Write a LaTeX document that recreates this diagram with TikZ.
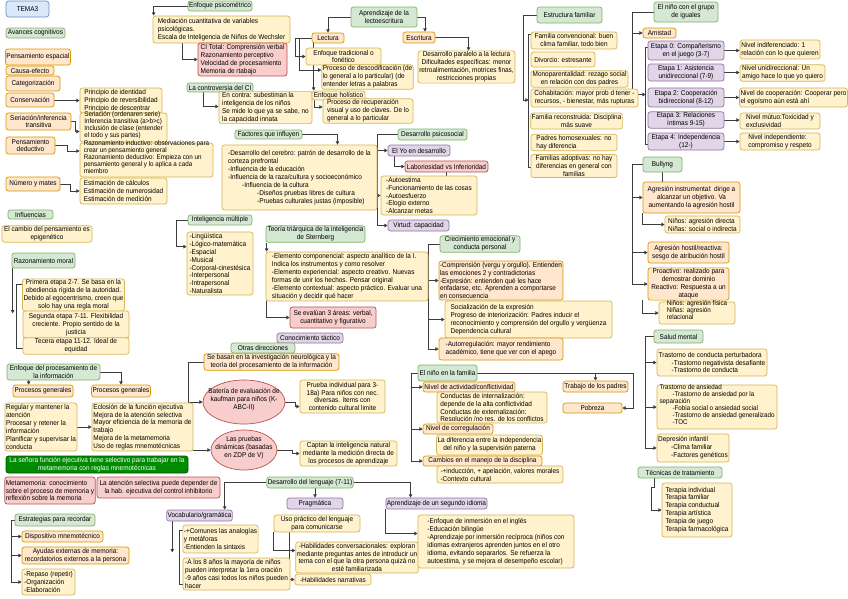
\documentclass[tikz,border=0pt]{standalone}
\usepackage{fontspec}
\setmainfont{Liberation Sans}[FakeStretch=0.92]
\usetikzlibrary{arrows.meta,calc,shapes.geometric}
\pgfdeclarelayer{bgw}\pgfdeclarelayer{bgl}\pgfsetlayers{bgw,bgl,main}
\definecolor{gF}{HTML}{D5E8D4}\definecolor{gD}{HTML}{82B366}
\definecolor{yF}{HTML}{FFF2CC}\definecolor{yD}{HTML}{D6B656}
\definecolor{oF}{HTML}{FFE6CC}\definecolor{oD}{HTML}{D79B00}
\definecolor{rF}{HTML}{F8CECC}\definecolor{rD}{HTML}{B85450}
\definecolor{pF}{HTML}{E1D5E7}\definecolor{pD}{HTML}{9673A6}
\definecolor{bF}{HTML}{DAE8FC}\definecolor{bD}{HTML}{6C8EBF}
\definecolor{dgF}{HTML}{008A00}\definecolor{dgD}{HTML}{005700}
\definecolor{lnC}{HTML}{3D3D3D}
\newcommand\fs{\fontsize{7}{7.9}\selectfont}
\newcommand\mybx[7]{\node[#1,minimum width={(#5)-(#3)},minimum height={(#6)-(#4)}] (#2) at ({((#3)+(#5))/2},{((#4)+(#6))/2}) {#7};}
\newcommand\ovl[1]{\smash{\begin{tabular}[c]{@{}l@{}}#1\end{tabular}}}
\newcommand\ovt[1]{{\fontsize{6.8}{6.9}\selectfont\smash{\begin{tabular}[c]{@{}l@{}}#1\end{tabular}}}}
\newcommand\ovz[1]{\makebox[0pt]{\smash{\begin{tabular}[c]{@{}c@{}}#1\end{tabular}}}}
\tikzset{
 base/.style={rounded corners=2.5pt, line width=0.7pt, inner sep=1pt, align=center},
 gbox/.style={base, fill=gF, draw=gD},
 ybox/.style={base, fill=yF, draw=yD},
 obox/.style={base, fill=oF, draw=oD},
 rbox/.style={base, fill=rF, draw=rD},
 pbox/.style={base, fill=pF, draw=pD},
 blbox/.style={base, fill=bF, draw=bD, rounded corners=3pt},
 dgbox/.style={base, fill=dgF, draw=dgD, text=white},
 ebox/.style={ellipse, fill=rF, draw=rD, line width=0.7pt, inner sep=0pt, align=center},
 lft/.style={align=left},
 ln/.style={draw=lnC, line width=0.7pt},
 conn/.style={ln, -{Triangle[length=3.2pt,width=3.4pt]}},
}
\begin{document}
\begin{tikzpicture}[x=1pt,y=-1pt, every node/.style={font=\fs, text=black}]
\useasboundingbox (0,0) rectangle (848,598);
\begin{pgfonlayer}{bgw}\fill[white] (0,0) rectangle (848,598);\end{pgfonlayer}

% ---------- left column ----------
\mybx{blbox}{tema}{6}{1}{49}{17}{TEMA3}
\mybx{gbox}{avances}{6}{28}{65}{38}{Avances cognitivos}
\mybx{obox}{pesp}{6}{49}{70}{65}{Pensamiento espacial}
\mybx{obox}{causa}{6}{66}{54}{75}{Causa-efecto}
\mybx{obox}{categ}{6}{76}{60}{91}{Categorización}
\mybx{obox}{conserv}{6}{93}{54}{107}{Conservación}
\mybx{ybox,lft}{conservT}{80}{88}{162}{113}{Principio de identidad\\Principio de reversibilidad\\Principio de descentrar}
\mybx{obox}{seria}{6}{113}{71}{130}{Seriación/inferencia\\transitiva}
\mybx{ybox}{seriaT}{80}{113}{167}{142}{\ovt{Seriación (ordenaren serie)\\Inferencia transitiva (a>b>c)\\Inclusión de clase (entender\\el todo y sus partes)}}
\mybx{obox}{deduc}{6}{137}{55}{154}{Pensamiento\\deductivo}
\mybx{ybox}{deducT}{80}{143}{213}{177}{\ovt{Razonamiento inductivo: observaciones para\\crear un pensamiento general\\Razonamiento deductivo: Empieza con un\\pensamiento general y lo aplica a cada\\miembro}}
\mybx{obox}{num}{6}{177}{60}{191}{Número y mates}
\mybx{ybox,lft}{estim}{80}{178}{167}{204}{Estimación de cálculos\\Estimación de numerosidad\\Estimación de medición}
\mybx{gbox}{influ}{8}{210}{53}{219}{Influencias}
\mybx{ybox}{epig}{2}{226}{92}{242}{El cambio del pensamiento es\\epigenético}
\mybx{gbox}{razmor}{12}{253}{75}{268}{Razonamiento moral}
\mybx{ybox}{et1}{23}{279}{124}{311}{Primera etapa 2-7. Se basa en la\\obediencia rígida de la autoridad.\\Debido al egocentrismo, creen que\\solo hay una regla moral}
\mybx{ybox}{et2}{23}{311}{129}{338}{Segunda etapa 7-11.  Flexibilidad\\creciente. Propio sentido de la\\justicia}
\mybx{ybox}{et3}{23}{338}{129}{354}{Tecera etapa 11-12. Ideal  de\\equidad}
\mybx{gbox}{enfproc}{7}{364}{100}{380}{Enfoque del procesamiento de\\la información}
\mybx{obox}{pg1}{13}{385}{73}{397}{Procesos generales}
\mybx{obox}{pg2}{92}{385}{150}{397}{Procesos generales}
\mybx{ybox,lft}{pg1T}{5}{403}{77}{451}{Regular y mantener la\\atención\\Procesar y retener la\\información\\Planificar y supervisar la\\conducta}
\mybx{ybox,lft}{pg2T}{92}{403}{193}{451}{Eclosión de la función ejecutiva\\Mejora de la atención selectiva\\Mayor eficiencia de la memoria de\\trabajo\\Mejora de la metamemoria\\Uso de reglas mnemotécnicas}
\mybx{dgbox}{senora}{6}{456}{188}{473}{La señora función ejecutiva tiene selectivo para trabajar en la\\metamemoria con reglas mnemotécnicas}
\mybx{rbox,lft}{metam}{5}{477}{95}{504}{Metamemoria: conocimiento\\sobre el proceso de memoria y\\reflexión sobre la memoria}
\mybx{rbox}{atsel}{97}{477}{220}{498}{La atención selectiva puede depender de\\la hab. ejecutiva del control inhibitorio}
\mybx{gbox}{estrat}{15}{514}{95}{526}{Estrategias para recordar}
\mybx{obox}{dispo}{22}{531}{103}{542}{Dispositivo mnemotécnico}
\mybx{obox}{ayudas}{22}{547}{129}{564}{Ayudas externas de memoria:\\recordatorios externos a la persona}
\mybx{ybox,lft}{repaso}{22}{569}{75}{595}{-Repaso (repetir)\\-Organización\\-Elaboración}

% ---------- second column ----------
\mybx{gbox}{psico}{188}{1}{252}{11}{Enfoque psicométrico}
\mybx{ybox,lft}{medT}{153}{16}{290}{43}{Mediación cuantitativa de variables\\psicológicas.\\Escala de Inteligencia de Niños de Wechsler}
\mybx{rbox,lft}{ci}{198}{43}{287}{76}{CI Total: Comprensión verbal\\Razonamiento perceptivo\\Velocidad de procesamiento\\Memoria de rtabajo}
\mybx{gbox}{contro}{187}{83}{253}{92}{La controversia del CI}
\mybx{ybox,lft}{controT}{219}{92}{312}{123}{En contra: subestiman la\\inteligencia de los niños\\Se mide lo que ya se sabe, no\\la capacidad innata}
\mybx{gbox}{factores}{235}{130}{302}{139}{Factores que influyen}
\mybx{ybox,lft}{factT}{222}{145}{377}{210}{-Desarrollo del cerebro: patrón de desarrollo de la\\corteza prefrontal\\-Influencia de la educación\\-Influencia de la raza/cultura y socioeconómico\\\hspace*{14pt}-Influencia de la cultura\\\hspace*{29pt}-Diseños pruebas libres de cultura\\\hspace*{29pt}-Pruebas culturales justas (imposible)}
\mybx{gbox}{imult}{188}{215}{252}{225}{Inteligencia múltiple}
\mybx{ybox,lft}{imultT}{187}{232}{253}{295}{-Lingüística\\-Lógico-matemática\\-Espacial\\-Musical\\-Corporal-cinestésica\\-Interpersonal\\-Intrapersonal\\-Naturalista}
\mybx{gbox}{stern}{266}{226}{365}{242}{Teoría triárquica de la inteligencia\\de Sternberg}
\mybx{ybox,lft}{sternT}{266}{252}{428}{301}{-Elemento componencial: aspecto analítico de la I.\\Indica los instrumentos y como resolver\\-Elemento experiencial: aspecto creativo. Nuevas\\formas de unir los hechos. Pensar original\\-Elemento contextual: aspecto práctico. Evaluar una\\situación y decidir qué hacer}
\mybx{rbox}{evalu}{290}{307}{376}{328}{Se evalúan 3 áreas: verbal,\\cuantitativo y figurativo}
\mybx{pbox}{conoc}{277}{333}{343}{343}{Conocimiento táctico}
\mybx{gbox}{otras}{231}{343}{295}{353}{Otras direcciones}
\mybx{obox}{sebasan}{204}{354}{339}{370}{Se basan en la investigación neurológica y la\\teoría del procesamiento de la información}
\node[ebox, minimum width=82, minimum height=44] (bateria) at (244,402) {\ovz{Batería de evaluación de\\kaufman para niños (K-\\ABC-II)}};
\mybx{ybox}{pruebaInd}{300}{380}{385}{413}{Prueba individual para 3-\\18a) Para niños con nec.\\diversas. ítems con\\contenido cultural limite}
\node[ebox, minimum width=66, minimum height=40] (dinam) at (244,450) {\ovz{Las pruebas\\dinámicas (basadas\\en ZDP de V)}};
\mybx{ybox}{captan}{300}{441}{397}{466}{Captan la inteligencia natural\\mediante la medición directa de\\los procesos de aprendizaje}
\mybx{gbox}{dlen}{267}{477}{353}{488}{Desarrollo del lenguaje (7-11)}
\mybx{pbox}{vocab}{167}{510}{232}{521}{Vocabulario/gramática}
\mybx{pbox}{prag}{287}{498}{343}{509}{Pragmática}
\mybx{pbox}{segidi}{386}{498}{487}{509}{Aprendizaje de un segundo idioma}
\mybx{ybox,lft}{vocT1}{183}{525}{258}{553}{-+Comunes las analogías\\y metáforas\\-Entienden la sintaxis}
\mybx{ybox,lft}{vocT2}{183}{558}{290}{590}{-A los 8 años la mayoría de niños\\pueden interpretar la  1era oración\\-9 años casi todos los niños pueden\\hacer}
\mybx{ybox}{uso}{274}{515}{360}{532}{Uso práctico del lenguaje\\para comunicarse}
\mybx{ybox}{habconv}{296}{542}{418}{573}{-Habilidades conversacionales: exploran\\mediante preguntas antes de introducir un\\tema con el que la otra persona quizá no\\esté familiarizada}
\mybx{ybox}{habnarr}{295}{574}{371}{585}{-Habilidades narrativas}
\mybx{ybox,lft}{segT}{418}{515}{574}{568}{-Enfoque de inmersión en el inglés\\-Educación bilingüe\\-Aprendizaje por inmersión recíproca (niños con\\idiomas extranjeros aprenden juntos en el otro\\idioma, evitando separarlos. Se refuerza la\\autoestima, y se mejora el desempeño escolar)}

% ---------- lectoescritura ----------
\mybx{gbox}{aprlect}{351}{7}{417}{27}{Aprendizaje de la\\lectoescritura}
\mybx{obox}{lectura}{312}{33}{344}{43}{Lectura}
\mybx{obox}{escritura}{403}{32}{435}{43}{Escritura}
\mybx{ybox}{etrad}{306}{48}{381}{65}{Enfoque tradicional o\\fonético}
\mybx{ybox,lft}{edesc}{322}{65}{413}{89}{Proceso de descodificación (de\\lo general a lo particular) (de\\entender letras a palabras}
\mybx{ybox}{eholi}{312}{91}{365}{100}{Enfoque holístico}
\mybx{ybox,lft}{erecup}{323}{99}{413}{123}{Proceso de recuperación\\visual y uso de claves. De lo\\general a lo particular}
\mybx{ybox}{escrT}{418}{51}{515}{83}{Desarrollo paralelo a la lectura\\Dificultades específicas: menor\\retroalimentación, motrices finas,\\restricciones propias}

% ---------- psicosocial ----------
\mybx{gbox}{dpsico}{398}{129}{467}{140}{Desarrollo psicosocial}
\mybx{pbox,lft}{yo}{388}{145}{450}{156}{El Yo en desarrollo}
\mybx{rbox}{labor}{405}{161}{488}{172}{Laboriosidad vs Inferioridad}
\mybx{ybox,lft}{laborT}{381}{176}{477}{215}{-Autoestima\\-Funcionamiento de las cosas\\-Autoesfuerzo\\-Elogio externo\\-Alcanzar metas}
\mybx{pbox}{virtud}{388}{220}{449}{231}{Virtud: capacidad}
\mybx{gbox}{crec}{440}{236}{520}{252}{Crecimiento emocional y\\conducta personal}
\mybx{obox,lft}{compr}{439}{261}{563}{300}{-Comprensión (vergu y orgullo). Entienden\\las emociones 2 y contradictorias\\-Expresión: entienden qué les hace\\enfadarse, etc. Aprenden a comportarse\\en consecuencia}
\mybx{ybox,lft}{social}{445}{301}{612}{338}{Socialización de la expresión\\Progreso de interiorización: Padres inducir el\\reconocimiento y comprensión del orgullo y vergüenza\\Dependencia cultural}
\mybx{obox,lft}{autor}{439}{338}{563}{360}{-Autorregulación: mayor rendimiento\\académico, tiene que  ver con el apego}
\mybx{gbox}{ninofam}{418}{365}{477}{381}{El niño en la familia}
\mybx{obox}{trabajo}{563}{381}{628}{392}{Trabajo de los padres}
\mybx{obox}{pobreza}{563}{403}{622}{413}{Pobreza}
\mybx{obox}{nivact}{423}{382}{515}{392}{Nivel de actividad/conflictividad}
\mybx{ybox,lft}{conduc}{437}{392}{547}{423}{Conductas de internalización:\\depende de la alta conflictividad\\Conductas de externalización:\\Resolución /no res. de los conflictos}
\mybx{obox}{correg}{423}{424}{493}{434}{Nivel de corregulación}
\mybx{ybox}{difer}{437}{435}{542}{455}{La diferencia entre la independencia\\del niño y la supervisión paterna}
\mybx{obox}{cambios}{423}{456}{542}{466}{Cambios en el manejo de la disciplina}
\mybx{ybox,lft}{induc}{437}{466}{563}{483}{-+inducción, + apelación, valores morales\\-Contexto cultural}

% ---------- familia ----------
\mybx{gbox}{estfam}{537}{7}{602}{23}{Estructura familiar}
\mybx{ybox}{fam1}{531}{32}{617}{49}{Familia convencional: buen\\clima familiar, todo bien}
\mybx{ybox}{fam2}{531}{52}{595}{67}{Divorcio: estresante}
\mybx{ybox}{fam3}{531}{71}{628}{87}{Monoparentalidad: rezago social\\en relación con dos padres}
\mybx{ybox}{fam4}{531}{89}{638}{107}{Cohabitación: mayor prob d tener -\\recursos, - bienestar, más rupturas}
\mybx{ybox}{fam5}{531}{113}{622}{129}{Familia reconstruida: Disciplina\\más suave}
\mybx{ybox,lft}{fam6}{531}{135}{617}{150}{Padres homosexuales: no\\hay diferencia}
\mybx{ybox}{fam7}{531}{155}{617}{177}{Familias adoptivas: no hay\\diferencias en general con\\familias}

% ---------- iguales ----------
\mybx{gbox}{grupo}{654}{2}{718}{22}{El niño con el grupo\\de iguales}
\mybx{obox}{amistad}{643}{28}{676}{38}{Amistad}
\mybx{pbox}{e0}{648}{41}{724}{60}{Etapa 0: Compañerismo\\en el juego (3-7)}
\mybx{pbox}{e1}{648}{64}{724}{81}{Etapa 1: Asistencia\\unidireccional (7-9)}
\mybx{pbox}{e2}{648}{88}{724}{107}{Etapa 2: Cooperación\\bidireccional (8-12)}
\mybx{pbox}{e3}{648}{112}{724}{128}{Etapa 3:  Relaciones\\íntimas 9-15)}
\mybx{pbox}{e4}{648}{133}{724}{150}{Etapa 4: Independencia\\(12-)}
\mybx{ybox,lft}{n0}{740}{40}{820}{59}{Nivel indiferenciado: 1\\relación con lo que quieren}
\mybx{ybox,lft}{n1}{740}{65}{825}{81}{Nivel unidireccional: Un\\amigo hace lo que yo quiero}
\mybx{ybox,lft}{n2}{740}{88}{847}{107}{Nivel de cooperación: Cooperar pero\\el egoísmo aún está ahí}
\mybx{ybox,lft}{n3}{740}{113}{820}{129}{Nivel mútuo:Toxicidad y\\exclusividad}
\mybx{ybox,lft}{n4}{740}{133}{820}{150}{Nivel independiente:\\compromiso y respeto}
\mybx{gbox}{bully}{643}{157}{682}{172}{Bullyng}
\mybx{obox}{agrinst}{643}{182}{740}{213}{Agresión instrumental: dirige a\\alcanzar un objetivo. Va\\aumentando la agresión hostil}
\mybx{ybox,lft}{ninos1}{665}{216}{740}{233}{Niños: agresión directa\\Niñas: social o indirecta}
\mybx{obox}{agrhost}{648}{242}{729}{263}{Agresión hostil/reactiva:\\sesgo de atribución hostil}
\mybx{obox}{proact}{648}{268}{729}{300}{Proactivo: realizado para\\demostrar dominio\\Reactivo: Respuesta a un\\ataque}
\mybx{ybox}{ninos2}{659}{302}{735}{324}{\ovt{Niños: agresión física\\Niñas: agresión\\relacional}}
\mybx{gbox}{salud}{654}{330}{703}{343}{Salud mental}
\mybx{ybox,lft}{tcp}{657}{349}{767}{376}{Trastorno de conducta perturbadora\\\hspace*{13pt}-Trastorno negativista desafiante\\\hspace*{13pt}-Trastorno de conducta}
\mybx{ybox}{tans}{657}{385}{777}{429}{\ovt{Trastorno de ansiedad\\\hspace*{13pt}-Trastorno de ansiedad por la\\separación\\\hspace*{13pt}-Fobia social o ansiedad social\\\hspace*{13pt}-Trastorno de ansiedad generalizado\\\hspace*{13pt}-TOC}}
\mybx{ybox,lft}{depr}{657}{434}{729}{462}{Depresión infantil\\\hspace*{13pt}-Clima familiar\\\hspace*{13pt}-Factores genéticos}
\mybx{gbox}{tecn}{638}{467}{722}{478}{Técnicas de tratamiento}
\mybx{ybox,lft}{terap}{662}{483}{732}{537}{Terapia individual\\Terapia familiar\\Terapia conductual\\Terapia artística\\Terapia de juego\\Terapia farmacológica}

% ---------- connectors ----------
\begin{pgfonlayer}{bgl}
\draw[conn] (conserv.east) -- ++(10,0) |- (conservT.west);
\draw[conn] (seria.east) -- ++(4,0) |- ($(seriaT.west)+(0,4)$);
\draw[conn] (deduc.east) -- ++(12,0) |- ($(deducT.west)+(0,-9)$);
\draw[conn] (num.east) -- ++(10,0) |- (estim.west);
\draw[conn] (psico.west) -| ($(medT.north west)+(1,0)$);
\draw[conn] ($(medT.south west)+(30,0)$) |- (ci.west);
\draw[conn] ($(contro.south west)+(17,0)$) |- ($(controT.west)+(0,-1)$);
\draw[conn] (aprlect.west) -| (lectura.north);
\draw[conn] (aprlect.east) -| ($(escritura.north)+(6,0)$);
\draw[conn] (escritura.east) -| ($(escrT.north)+(2,0)$);
\draw[conn] (lectura.west) -- ++(-16,0) |- (etrad.west);
\draw[conn] (lectura.west) -- ++(-12,0) |- ($(edesc.west)+(0,-7)$);
\draw[conn] ($(lectura.south west)+(2,0)$) -- ($(eholi.north west)+(2,0)$);
\draw[conn] ($(eholi.south west)+(3,0)$) |- ($(erecup.west)+(0,-4)$);
\draw[conn] (factores.east) -| ($(factT.north)+(38,0)$);
\draw[conn] (dpsico.west) -- ++(-20,0) |- (yo.west);
\draw[conn] (dpsico.west) -- ++(-20,0) |- (laborT.west);
\draw[conn] (dpsico.west) -- ++(-20,0) |- (virtud.west);
\draw[conn] ($(yo.south west)+(7,0)$) |- (labor.west);
\draw[ln] (labor.south) -- (labor.south |- laborT.north);
\draw[conn] (estfam.west) -- ++(-13,0) |- ($(fam4.west)+(-2,2)$);
\draw[ln] ($(fam1.west)+(0,-6)$) -- ++(-2,0) |- ($(fam7.west)+(0,1)$);
\draw[conn] (grupo.west) -- ++(-21,0) |- (amistad.west);
\draw[conn] (grupo.west) -- ++(-21,0) |- ($(e2.west)+(-2,-3)$);
\draw[ln] ($(e0.west)+(0,-3)$) -- ++(-2,0) |- ($(e4.west)+(0,3)$);
\foreach \i in {0,...,4}{\draw[conn] (e\i.east) -- (e\i.east -| n\i.west);}
\draw[conn] (bully.west) -- ++(-10,0) |- (agrinst.west);
\draw[conn] (bully.west) -- ++(-10,0) |- (agrhost.west);
\draw[conn] (bully.west) -- ++(-10,0) |- (proact.west);
\draw[ln] (bully.south) -- (bully.south |- agrinst.north);
\draw[conn] (agrinst.south west) |- (ninos1.west);
\draw[conn] ($(proact.south west)+(-5,0)$) |- (ninos2.west);
\draw[conn] (salud.west) -- ++(-8,0) |- (tcp.west);
\draw[conn] (salud.west) -- ++(-8,0) |- (tans.west);
\draw[conn] (salud.west) -- ++(-8,0) |- (depr.west);
\draw[conn] ($(tecn.south west)+(17,0)$) -- ++(0,9) -- ++(-3,0) |- (terap.west);
\draw[conn] (imult.west) -- ++(-11,0) |- ($(imultT.north west)+(0,15)$);
\draw[conn] ($(stern.south west)+(1,0)$) -- ($(sternT.north west)+(1,0)$);
\draw[conn] ($(sternT.south west)+(1,0)$) |- (evalu.west);
\draw[conn] (sebasan.west) -- ++(-15,0) |- (bateria.west);
\draw[conn] (bateria.east) -- ++(10,0) |- ($(pruebaInd.west)+(0,10)$);
\draw[conn] (dinam.east) -- ++(15,0) |- (captan.west);
\draw[conn] (pg2T.east |- dinam.west) -- (dinam.west);
\draw[conn] (pg1T.east) -- (pg2T.west);
\draw[conn] ($(enfproc.south west)+(22,0)$) -- ($(pg1.north west)+(16,0)$);
\draw[conn] (enfproc.east) -| (pg2.north);
\draw[conn] ($(razmor.south west)+(1,0)$) -- ++(0,45);
\draw[ln] ($(et1.north west)+(0,6)$) -- ++(-6,0) |- ($(et3.south west)+(0,-6)$);
\draw[conn] (estrat.west) -- ++(-3,0) |- (dispo.west);
\draw[conn] (estrat.west) -- ++(-3,0) |- (ayudas.west);
\draw[conn] (estrat.west) -- ++(-3,0) |- (repaso.west);
\draw[conn] (dlen.west) -| ($(vocab.north east)+(-8,0)$);
\draw[conn] (prag.north |- dlen.south) -- (prag.north);
\draw[conn] (dlen.east) -| ($(segidi.north west)+(25,0)$);
\draw[conn] ($(vocab.south west)+(6,0)$) -- ++(0,31);
\draw[ln] ($(vocT1.north west)+(0,6)$) -- ++(-3,0) |- ($(vocT2.south west)+(0,-6)$);
\draw[conn] (uso.south west) |- ($(habconv.west)+(0,-7)$);
\draw[conn] ($(uso.south west)+(16,0)$) |- (habnarr.west);
\draw[conn] (segidi.south west) |- ($(segT.west)+(0,-8)$);
\draw[conn] (crec.west) -- ++(-11,0) |- (compr.west);
\draw[conn] (crec.west) -- ++(-11,0) |- (social.west);
\draw[conn] (crec.west) -- ++(-11,0) |- (autor.west);
\draw[conn] (ninofam.east) -| (trabajo.north);
\draw[conn] (ninofam.east) -- ++(156,0) |- (pobreza.east);
\draw[conn] (ninofam.west) -- ++(-6,0) |- (nivact.west);
\draw[conn] (ninofam.west) -- ++(-6,0) |- (correg.west);
\draw[conn] (ninofam.west) -- ++(-6,0) |- (cambios.west);
\end{pgfonlayer}
\end{tikzpicture}
\end{document}
